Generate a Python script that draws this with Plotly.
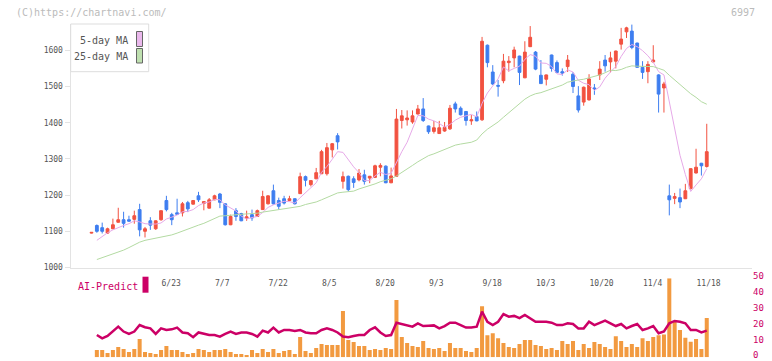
import plotly.graph_objects as go

W, H = 772, 361

# ---------------- data ----------------
TICK_IDX = [13, 23, 33, 43, 53, 63, 73, 83, 93, 103, 113]
TICK_TEXT = ["6/23", "7/7", "7/22", "8/5", "8/20", "9/3", "9/18", "10/3", "10/20", "11/4", "11/18"]

OPEN = [1095, 1116, 1110, 1095, 1107, 1125, 1132, 1132, 1133, 1160,
        1100, 1129, 1107, 1132, 1185, 1146, 1151, 1151, 1179, 1175,
        1198, 1177, 1164, 1187, 1203, 1176, 1118, 1157, 1149, 1136,
        1146, 1141, 1160, 1176, 1212, 1185, 1190, 1185, 1190, 1204,
        1251, 1229, 1245, 1259, 1259, 1325, 1364, 1238, 1252, 1245,
        1242, 1256, 1247, 1249, 1277, 1280, 1234, 1252, 1406, 1408,
        1402, 1424, 1438, 1391, 1376, 1370, 1377, 1383, 1452, 1440,
        1431, 1405, 1417, 1408, 1614, 1540, 1503, 1516, 1566, 1579,
        1584, 1524, 1610, 1595, 1531, 1520, 1587, 1566, 1541, 1555,
        1534, 1474, 1457, 1463, 1496, 1532, 1573, 1568, 1570, 1617,
        1651, 1653, 1620, 1553, 1541, 1568, 1532, 1496, 1198, 1191,
        1193, 1190, 1218, 1261, 1288, 1279]
HIGH = [1097, 1119, 1124, 1110, 1135, 1165, 1154, 1143, 1157, 1176,
        1112, 1139, 1130, 1157, 1198, 1151, 1190, 1181, 1184, 1186,
        1209, 1183, 1192, 1201, 1206, 1177, 1146, 1164, 1151, 1157,
        1160, 1160, 1212, 1199, 1229, 1193, 1198, 1198, 1191, 1262,
        1254, 1241, 1275, 1325, 1344, 1344, 1371, 1265, 1254, 1252,
        1272, 1270, 1253, 1284, 1288, 1282, 1276, 1438, 1435, 1434,
        1434, 1449, 1468, 1392, 1405, 1405, 1402, 1449, 1458, 1445,
        1432, 1421, 1431, 1637, 1616, 1559, 1518, 1590, 1584, 1610,
        1585, 1625, 1667, 1598, 1573, 1533, 1588, 1572, 1550, 1587,
        1540, 1501, 1500, 1534, 1507, 1570, 1587, 1596, 1599, 1662,
        1665, 1671, 1621, 1570, 1570, 1614, 1534, 1513, 1229, 1206,
        1218, 1231, 1274, 1328, 1289, 1397]
LOW = [1094, 1096, 1094, 1093, 1106, 1124, 1110, 1126, 1121, 1086,
       1083, 1104, 1104, 1129, 1155, 1117, 1146, 1141, 1153, 1174,
       1181, 1158, 1163, 1186, 1164, 1116, 1117, 1129, 1128, 1129,
       1129, 1140, 1159, 1174, 1174, 1160, 1174, 1183, 1174, 1203,
       1224, 1224, 1244, 1258, 1254, 1304, 1326, 1218, 1210, 1220,
       1238, 1229, 1233, 1247, 1252, 1233, 1233, 1251, 1384, 1392,
       1397, 1423, 1402, 1369, 1370, 1369, 1375, 1380, 1428, 1420,
       1392, 1394, 1404, 1405, 1553, 1504, 1472, 1509, 1541, 1553,
       1504, 1523, 1609, 1545, 1507, 1503, 1541, 1538, 1530, 1540,
       1482, 1428, 1447, 1461, 1477, 1518, 1541, 1539, 1550, 1602,
       1634, 1603, 1552, 1521, 1509, 1566, 1428, 1428, 1144, 1175,
       1164, 1189, 1215, 1260, 1254, 1276]
CLOSE = [1097, 1100, 1100, 1107, 1118, 1132, 1122, 1128, 1143, 1104,
         1107, 1117, 1129, 1157, 1160, 1132, 1147, 1176, 1162, 1185,
         1187, 1182, 1187, 1198, 1180, 1118, 1141, 1141, 1129, 1140,
         1137, 1157, 1196, 1198, 1176, 1169, 1178, 1190, 1176, 1251,
         1241, 1240, 1262, 1320, 1331, 1342, 1347, 1251, 1215, 1235,
         1261, 1238, 1252, 1281, 1282, 1234, 1253, 1410, 1419, 1413,
         1419, 1438, 1406, 1375, 1386, 1386, 1387, 1440, 1438, 1422,
         1406, 1408, 1405, 1625, 1566, 1507, 1501, 1570, 1570, 1601,
         1539, 1595, 1636, 1548, 1508, 1532, 1550, 1539, 1537, 1573,
         1500, 1435, 1498, 1521, 1493, 1548, 1557, 1579, 1598, 1631,
         1662, 1608, 1553, 1539, 1561, 1573, 1479, 1507, 1187, 1196,
         1181, 1212, 1273, 1277, 1281, 1320]

# series below start at the 2nd candle
MA5 = [1075, 1086, 1096, 1104, 1111, 1116, 1121, 1129, 1126, 1121,
       1120, 1120, 1123, 1134, 1139, 1145, 1154, 1155, 1160, 1171,
       1178, 1181, 1188, 1187, 1173, 1165, 1156, 1142, 1134, 1138,
       1141, 1152, 1166, 1173, 1179, 1183, 1182, 1178, 1193, 1207,
       1220, 1234, 1263, 1279, 1299, 1320, 1318, 1297, 1278, 1262,
       1240, 1240, 1253, 1263, 1257, 1260, 1292, 1320, 1346, 1383,
       1420, 1419, 1410, 1405, 1398, 1388, 1395, 1407, 1415, 1419,
       1423, 1416, 1453, 1482, 1502, 1521, 1554, 1543, 1550, 1556,
       1575, 1588, 1584, 1565, 1564, 1555, 1535, 1533, 1546, 1540,
       1517, 1509, 1505, 1489, 1499, 1523, 1540, 1555, 1583, 1605,
       1616, 1610, 1599, 1585, 1567, 1541, 1532, 1461, 1388, 1310,
       1257, 1210, 1228, 1245, 1273]
MA25 = [1022, 1027, 1032, 1037, 1042, 1048, 1055, 1063, 1070, 1075,
        1078, 1080, 1082, 1086, 1090, 1095, 1101, 1107, 1112, 1117,
        1122, 1128, 1135, 1142, 1143, 1145, 1146, 1147, 1148, 1148,
        1150, 1153, 1155, 1158, 1160, 1163, 1165, 1166, 1169, 1174,
        1177, 1181, 1187, 1193, 1199, 1206, 1208, 1209, 1211, 1217,
        1221, 1225, 1231, 1237, 1241, 1245, 1253, 1262, 1272, 1282,
        1292, 1301, 1309, 1314, 1320, 1326, 1333, 1338, 1341, 1344,
        1346, 1352, 1369, 1382, 1392, 1402, 1415, 1427, 1439, 1452,
        1465, 1474, 1480, 1483, 1488, 1492, 1498, 1504, 1512, 1516,
        1518, 1520, 1524, 1527, 1532, 1538, 1545, 1544, 1547, 1553,
        1557, 1556, 1555, 1554, 1555, 1550, 1545, 1531, 1518, 1504,
        1491, 1480, 1470, 1458, 1451]
VOLUME = [4.6, 4.6, 2.7, 4.6, 6.5, 5.3, 3.4, 5.3, 11.6, 3.4,
          2.7, 2.1, 4.6, 7.2, 4.6, 4.6, 3.4, 2.1, 2.7, 5.3,
          4.6, 3.4, 4.6, 4.6, 5.3, 3.4, 2.1, 2.1, 1.5, 4.6,
          2.7, 5.3, 3.4, 5.3, 2.7, 4.0, 4.6, 2.1, 12.8, 4.0,
          2.7, 5.9, 8.4, 7.8, 7.8, 7.8, 29.3, 11.0, 9.7, 7.2,
          7.2, 4.6, 5.3, 4.6, 5.9, 5.3, 36.3, 12.8, 9.0, 7.2,
          6.5, 10.3, 5.9, 5.3, 5.9, 4.0, 9.0, 5.9, 5.9, 4.0,
          3.4, 5.9, 32.3, 14.0, 15.2, 12.1, 9.0, 6.5, 5.9, 8.4,
          11.0, 11.0, 7.8, 7.2, 5.3, 5.9, 4.6, 10.3, 8.4, 10.3,
          4.6, 8.4, 5.9, 9.7, 8.4, 6.5, 5.3, 13.4, 10.3, 6.5,
          8.4, 6.5, 12.1, 10.3, 12.8, 14.0, 14.5, 50.0, 22.5, 17.3,
          12.4, 9.9, 11.6, 5.3, 24.9]
AI_PREDICT = [14.1, 12.0, 13.5, 16.3, 19.4, 16.3, 14.8, 16.3, 20.4, 19.0,
              18.3, 14.8, 18.3, 17.3, 17.7, 18.8, 15.7, 15.2, 12.7, 15.7,
              14.8, 14.1, 14.1, 13.1, 14.8, 16.3, 14.8, 15.7, 15.7, 14.8,
              13.1, 16.9, 15.7, 18.8, 15.7, 17.3, 17.3, 16.7, 17.3, 15.7,
              15.2, 15.2, 17.3, 18.3, 17.3, 15.7, 13.1, 12.7, 13.5, 14.1,
              14.1, 17.3, 19.0, 15.7, 13.5, 14.1, 21.9, 21.1, 20.4, 19.4,
              21.5, 19.8, 20.0, 20.2, 18.3, 19.8, 21.9, 21.9, 20.4, 18.8,
              18.8, 19.4, 28.9, 22.5, 20.4, 22.5, 27.4, 25.7, 26.2, 24.8,
              26.8, 24.8, 22.5, 22.5, 22.5, 21.9, 20.4, 20.4, 21.5, 21.1,
              18.3, 18.3, 22.5, 20.4, 21.9, 23.2, 21.5, 19.8, 21.1, 18.3,
              19.8, 21.1, 17.3, 18.3, 19.8, 15.2, 16.3, 21.5, 23.0, 22.5,
              21.5, 17.3, 17.3, 15.7, 16.9]
PRICE_TICKS = [1000, 1100, 1200, 1300, 1400, 1500, 1600]
SUB_TICKS = [0, 10, 20, 30, 40, 50]

# ---------------- styling ----------------
RED = "#f25240"
BLUE = "#3e7ef0"
PINK = "#e6a9e8"
GREEN = "#b3daa2"
ORANGE = "#f29a40"
CRIMSON = "#cc0066"
AXIS = "#e3e3e3"
TXT = "#555555"
MONO = "DejaVu Sans Mono, Liberation Mono, monospace"


def fx(p):
    return p / W


def fy(p):
    return 1 - p / H


x_c = list(range(len(OPEN)))
x_l = list(range(1, len(OPEN)))

X_LEFT, X_RIGHT = 70.5, 752.0
C0, STEP = 91.5, 5.35
X_RANGE = [(X_LEFT - C0) / STEP, (X_RIGHT - C0) / STEP]
Y_BOTTOM_PX, PX_PER_100 = 267.5, 36.2
TOP_PX = 23.5
Y_RANGE = [1000, 1000 + (Y_BOTTOM_PX - TOP_PX) / PX_PER_100 * 100]

fig = go.Figure()
fig.add_trace(go.Candlestick(
    x=x_c, open=OPEN, high=HIGH, low=LOW, close=CLOSE,
    increasing=dict(line=dict(color=RED, width=1), fillcolor=RED),
    decreasing=dict(line=dict(color=BLUE, width=1), fillcolor=BLUE),
    whiskerwidth=0, showlegend=False, hoverinfo="skip", xaxis="x", yaxis="y"))
fig.add_trace(go.Scatter(x=x_l, y=MA5, mode="lines", line=dict(color=PINK, width=1),
                         showlegend=False, hoverinfo="skip", xaxis="x", yaxis="y"))
fig.add_trace(go.Scatter(x=x_l, y=MA25, mode="lines", line=dict(color=GREEN, width=1),
                         showlegend=False, hoverinfo="skip", xaxis="x", yaxis="y"))
fig.add_trace(go.Bar(x=x_l, y=VOLUME, marker=dict(color=ORANGE, line=dict(width=0)),
                     width=0.75, showlegend=False, hoverinfo="skip", xaxis="x2", yaxis="y2"))
fig.add_trace(go.Scatter(x=x_l, y=AI_PREDICT, mode="lines", line=dict(color=CRIMSON, width=2.5),
                         showlegend=False, hoverinfo="skip", xaxis="x2", yaxis="y2"))

SUB_ZERO_PX, SUB_TOP_PX = 357.3, 278.3

fig.update_layout(
    width=W, height=H, margin=dict(l=0, r=0, t=0, b=0, pad=0), autosize=False,
    paper_bgcolor="white", plot_bgcolor="white",
    font=dict(family=MONO, size=8, color=TXT),
    boxgap=0.25,
    xaxis=dict(domain=[fx(X_LEFT), fx(X_RIGHT)], range=X_RANGE, anchor="y", automargin=False,
               showgrid=False, zeroline=False, showline=True, linecolor=AXIS, linewidth=1,
               tickmode="array", tickvals=TICK_IDX, ticktext=TICK_TEXT, ticks="",
               ticklabelposition="outside right", ticklabelstandoff=8,
               tickfont=dict(family=MONO, size=8, color=TXT),
               rangeslider=dict(visible=False), fixedrange=True),
    xaxis3=dict(domain=[fx(X_LEFT), fx(X_RIGHT)], range=[0, 11], overlaying="x", anchor="y",
                automargin=False,
                side="bottom", tickmode="linear", tick0=0, dtick=1, ticks="outside", ticklen=6,
                tickcolor=AXIS, showticklabels=False, showgrid=False, zeroline=False,
                showline=False),
    yaxis=dict(domain=[fy(Y_BOTTOM_PX), fy(TOP_PX)], range=Y_RANGE, anchor="x", automargin=False,
               showgrid=False, zeroline=False, showline=True, linecolor=AXIS, linewidth=1,
               tickmode="array", tickvals=PRICE_TICKS, ticks="outside", ticklen=5, tickcolor=AXIS,
               tickfont=dict(family=MONO, size=8, color=TXT)),
    xaxis2=dict(domain=[fx(X_LEFT), fx(X_RIGHT)], range=X_RANGE, anchor="y2", automargin=False,
                showgrid=False, zeroline=False, showline=False, showticklabels=False, ticks=""),
    yaxis2=dict(domain=[fy(SUB_ZERO_PX), fy(SUB_TOP_PX)], range=[0, 50], anchor="x2", side="right",
                automargin=False, ticklabeloverflow="allow", ticklabelshift=-2,
                showgrid=False, zeroline=False, showline=False, ticks="",
                tickmode="array", tickvals=SUB_TICKS,
                tickfont=dict(family=MONO, size=9, color=CRIMSON)),
)

shapes = []
annotations = []
# legend box
shapes.append(dict(type="rect", xref="paper", yref="paper", x0=fx(70.7), x1=fx(148.7),
                   y0=fy(71.7), y1=fy(24), line=dict(color="#dddddd", width=1), fillcolor="white",
                   layer="above"))
shapes.append(dict(type="rect", xref="paper", yref="paper", x0=fx(136.5), x1=fx(142.5),
                   y0=fy(46.5), y1=fy(31.5), line=dict(color="#666666", width=1), fillcolor="#eab8ec",
                   layer="above"))
shapes.append(dict(type="rect", xref="paper", yref="paper", x0=fx(136.5), x1=fx(142.5),
                   y0=fy(63), y1=fy(48.5), line=dict(color="#666666", width=1), fillcolor="#bfe0b0",
                   layer="above"))
annotations.append(dict(text="5-day MA", xref="paper", yref="paper", x=fx(130), y=fy(40.7),
                        xanchor="right", yanchor="middle", showarrow=False,
                        font=dict(family=MONO, size=10, color=TXT)))
annotations.append(dict(text="25-day MA", xref="paper", yref="paper", x=fx(130), y=fy(56.7),
                        xanchor="right", yanchor="middle", showarrow=False,
                        font=dict(family=MONO, size=10, color=TXT)))
# AI-Predict label
shapes.append(dict(type="rect", xref="paper", yref="paper", x0=fx(142.5), x1=fx(148.5),
                   y0=fy(292.7), y1=fy(276.7), line=dict(width=0), fillcolor=CRIMSON))
annotations.append(dict(text="AI-Predict", xref="paper", yref="paper", x=fx(75.5), y=fy(286),
                        xanchor="left", yanchor="middle", showarrow=False,
                        font=dict(family=MONO, size=10, color=CRIMSON)))
# header texts
annotations.append(dict(text="(C)https://chartnavi.com/", xref="paper", yref="paper", x=fx(14),
                        y=fy(12.5), xanchor="left", yanchor="middle", showarrow=False,
                        font=dict(family=MONO, size=10, color="#bbbbbb")))
annotations.append(dict(text="6997", xref="paper", yref="paper", x=fx(757), y=fy(12.5),
                        xanchor="right", yanchor="middle", showarrow=False,
                        font=dict(family=MONO, size=10, color="#bbbbbb")))
fig.update_layout(shapes=shapes, annotations=annotations)

fig.write_html("out.html", config={"displayModeBar": False},
               post_script="document.body.style.margin='0';")
